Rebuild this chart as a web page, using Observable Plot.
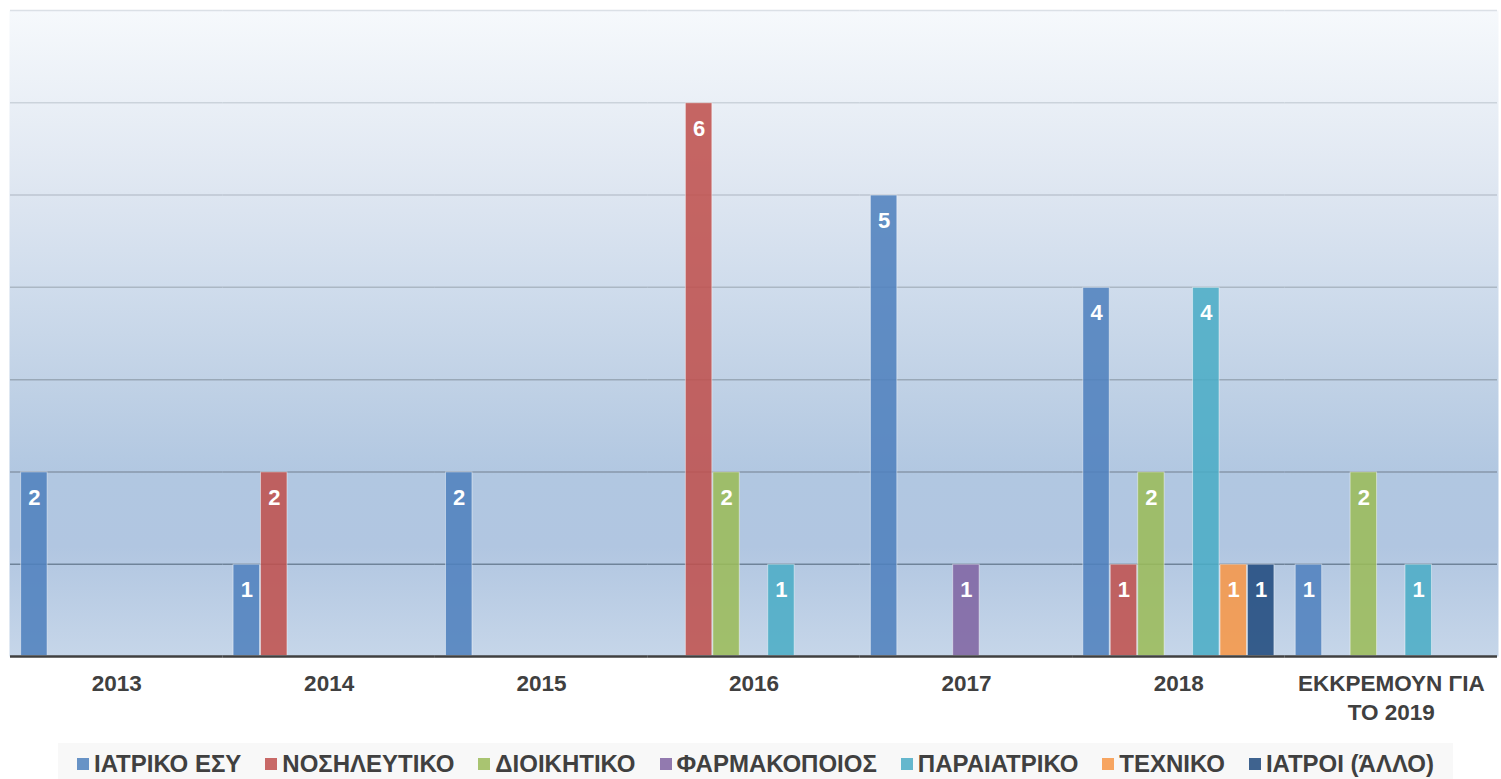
<!DOCTYPE html>
<html>
<head>
<meta charset="utf-8">
<script src="https://cdn.jsdelivr.net/npm/d3@7"></script>
<script src="https://cdn.jsdelivr.net/npm/@observablehq/plot@0.6"></script>
<style>
  html, body { margin: 0; padding: 0; background: #ffffff; }
  body { font-family: "Liberation Sans", Arial, sans-serif; width: 1501px; }
  #legend {
    margin-left: 58px; width: 1395px; height: 42px; background: #f8f8f8;
    display: flex; align-items: center; justify-content: center; gap: 24px;
    font-size: 24px; font-weight: bold; color: #404040;
  }
  #legend .item { display: flex; align-items: center; gap: 5px; white-space: nowrap; }
  #legend .sw { width: 12px; height: 12px; display: inline-block; }
</style>
</head>
<body>
<div id="chart"></div>
<div id="legend"></div>
<script>
const categories = ["2013", "2014", "2015", "2016", "2017", "2018", "ΕΚΚΡΕΜΟΥΝ ΓΙΑ ΤΟ 2019"];
const seriesNames = ["ΙΑΤΡΙΚΟ ΕΣΥ", "ΝΟΣΗΛΕΥΤΙΚΟ", "ΔΙΟΙΚΗΤΙΚΟ", "ΦΑΡΜΑΚΟΠΟΙΟΣ", "ΠΑΡΑΙΑΤΡΙΚΟ", "ΤΕΧΝΙΚΟ", "ΙΑΤΡΟΙ (ΆΛΛΟ)"];
const iatrikoEsy   = [2, 1, 2, 0, 5, 4, 1];
const nosileftiko  = [0, 2, 0, 6, 0, 1, 0];
const dioikitiko   = [0, 0, 0, 2, 0, 2, 2];
const farmakopoios = [0, 0, 0, 0, 1, 0, 0];
const paraiatriko  = [0, 0, 0, 1, 0, 4, 1];
const techniko     = [0, 0, 0, 0, 0, 1, 0];
const iatroiAllo   = [0, 0, 0, 0, 0, 1, 0];
const yTicks = [1, 2, 3, 4, 5, 6, 7];
const colors = ["#4F81BD", "#C0504D", "#9BBB59", "#8064A2", "#4BACC6", "#F79646", "#1F497D"];

const seriesValues = [iatrikoEsy, nosileftiko, dioikitiko, farmakopoios, paraiatriko, techniko, iatroiAllo];
const data = [];
seriesNames.forEach((s, si) => {
  categories.forEach((c, ci) => {
    const v = seriesValues[si][ci];
    if (v > 0) data.push({cat: c, series: s, value: v});
  });
});

const W = 1501, H = 743;
const gridColor = d => d3.interpolateRgb("#6f8399", "#dbe0e6")(Math.pow((d - 1) / 6, 0.85));

const plot = Plot.plot({
  width: W,
  height: H,
  marginLeft: 10,
  marginRight: 4,
  marginTop: 10,
  marginBottom: H - 656,
  style: {fontFamily: "'Liberation Sans', Arial, sans-serif", background: "transparent"},
  fx: {domain: categories, padding: 0, round: false, label: null, axis: null},
  x: {domain: seriesNames, paddingInner: 0, paddingOuter: 0.37, round: false, axis: null},
  y: {domain: [0, 7], axis: null},
  color: {domain: seriesNames, range: colors},
  marks: [
    Plot.frame({fill: "url(#bgGrad)", stroke: null, insetLeft: -1, insetRight: -1}),
    Plot.ruleY(yTicks, {stroke: gridColor, strokeWidth: 1.5}),
    Plot.barY(data, {fx: "cat", x: "series", y: "value", fill: "series", fillOpacity: 0.87,
      stroke: "#ffffff", strokeOpacity: 0.45, strokeWidth: 1, inset: 0.5}),
    Plot.text(data, {fx: "cat", x: "series", y: "value", text: d => String(d.value), dy: 26,
      fill: "white", fontSize: 22, fontWeight: "bold"}),
    Plot.ruleY([0], {stroke: "#404040", strokeWidth: 2.5}),
    Plot.axisFx({anchor: "bottom", tickSize: 0, tickPadding: 15, fontSize: 22.5, fontWeight: "bold",
      fill: "#404040", lineHeight: 1.25, label: null,
      tickFormat: d => d.replace("ΓΙΑ ", "ΓΙΑ\n")})
  ]
});

const svg = d3.select(plot);
const defs = svg.insert("defs", ":first-child");
const grad = defs.append("linearGradient").attr("id", "bgGrad")
  .attr("x1", 0).attr("y1", 0).attr("x2", 0).attr("y2", 1);
[[0, "#f6f9fc"], [0.28, "#dee6f1"], [0.43, "#cfdcec"], [0.57, "#c1d2e6"], [0.72, "#b1c7e1"],
 [0.83, "#b1c6e1"], [1, "#c6d6e9"]].forEach(([o, c]) => grad.append("stop").attr("offset", o).attr("stop-color", c));

document.getElementById("chart").appendChild(plot);

const legend = document.getElementById("legend");
seriesNames.forEach((s, i) => {
  const item = document.createElement("div");
  item.className = "item";
  const sw = document.createElement("span");
  sw.className = "sw";
  sw.style.background = colors[i];
  sw.style.opacity = 0.85;
  const t = document.createElement("span");
  t.textContent = s;
  item.appendChild(sw);
  item.appendChild(t);
  legend.appendChild(item);
});
</script>
</body>
</html>
